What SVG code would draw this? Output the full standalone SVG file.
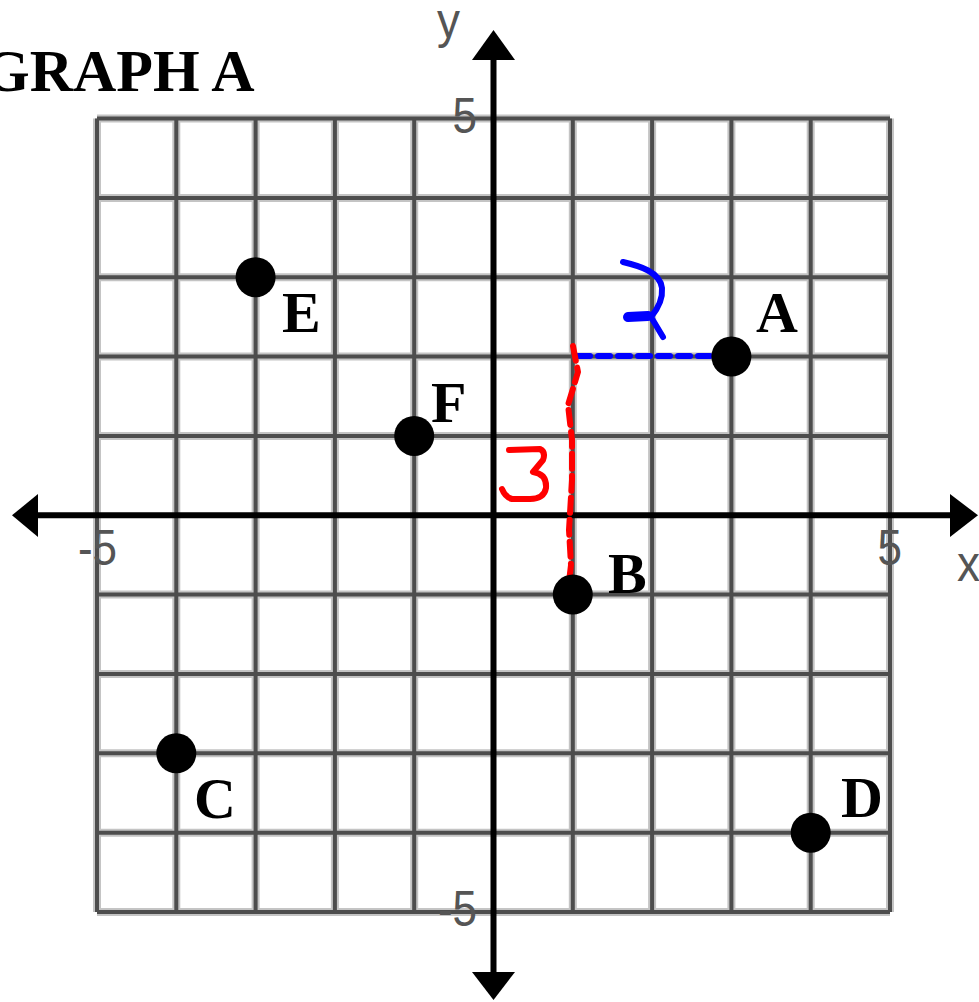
<svg xmlns="http://www.w3.org/2000/svg" width="979" height="1002" viewBox="0 0 979 1002">
<defs>
<style>
.halo{stroke:#c4c4c4;stroke-width:8;fill:none}
.grid{stroke:#4d4d4d;stroke-width:4;fill:none}
.axis{stroke:#000;stroke-width:6;fill:none}
.head{fill:#000}
.dot{fill:#000}
.lbl{font-family:"Liberation Serif","Times New Roman",serif;font-weight:bold;font-size:58px;fill:#000}
.title{font-family:"Liberation Serif","Times New Roman",serif;font-weight:bold;font-size:60px;fill:#000}
.tick{font-family:"Liberation Sans",Arial,sans-serif;font-size:50px;fill:#555}
.blue{stroke:#0000ff;stroke-width:6;fill:none;stroke-linecap:round;stroke-linejoin:round}
.red{stroke:#ff0000;stroke-width:6;fill:none;stroke-linecap:round;stroke-linejoin:round}
</style>
</defs>
<rect width="979" height="1002" fill="#fff"/>
<text class="title" x="-17" y="91">GRAPH A</text>
<g id="grid">
<path class="halo" d="M97,118.5V912M176.3,118.5V912M255.6,118.5V912M334.9,118.5V912M414.2,118.5V912M572.8,118.5V912M652.1,118.5V912M731.4,118.5V912M810.7,118.5V912M890,118.5V912M97,118.5H890M97,197.9H890M97,277.2H890M97,356.6H890M97,435.9H890M97,594.6H890M97,674H890M97,753.3H890M97,832.7H890M97,912H890"/>
<path class="grid" d="M97,118.5V912M176.3,118.5V912M255.6,118.5V912M334.9,118.5V912M414.2,118.5V912M572.8,118.5V912M652.1,118.5V912M731.4,118.5V912M810.7,118.5V912M890,118.5V912M97,118.5H890M97,197.9H890M97,277.2H890M97,356.6H890M97,435.9H890M97,594.6H890M97,674H890M97,753.3H890M97,832.7H890M97,912H890"/>
</g>
<g id="axes">
<path class="axis" d="M30,515.3H955M493.5,50V980"/>
<polygon class="head" points="12,515.3 38,494 38,537"/>
<polygon class="head" points="978,515.3 950,494 950,537"/>
<polygon class="head" points="493.5,30 472,60 515,60"/>
<polygon class="head" points="493.5,1000 472,972 515,972"/>
<text class="tick" transform="translate(477,133) scale(0.88,1)" text-anchor="end">5</text>
<text class="tick" transform="translate(117,565) scale(0.88,1)" text-anchor="end">-5</text>
<text class="tick" transform="translate(902,565) scale(0.88,1)" text-anchor="end">5</text>
<text class="tick" transform="translate(477,926) scale(0.88,1)" text-anchor="end">-5</text>
<text class="tick" transform="translate(957,581) scale(0.92,1)">x</text>
<text class="tick" transform="translate(437,38) scale(0.92,1)">y</text>
</g>
<g id="connectors">
<path class="blue" d="M578,356 H726" stroke-dasharray="12 8"/>
<path class="blue" d="M623,262 C640,266 660,272 662,288 C663,300 656,311 651,317 M629,317 L652,316 M651,317 L663,337"/>
<path d="M628,317 L648,316" stroke="#0000ff" stroke-width="10" stroke-linecap="round"/>
<path class="red" d="M573,346 L578,372 L568,405 L572,440 L572,480 L569,530 L571,565 L568,590" stroke-dasharray="15 7"/>
<path class="red" d="M509,450 L540,449 Q546,452 543,460 L533,472 Q547,474 546,488 Q544,499 530,499 L512,499 Q505,497 502,489"/>
</g>
<g id="node-A"><circle class="dot" cx="731.4" cy="356.6" r="20"/><text class="lbl" x="756" y="332">A</text></g>
<g id="node-B"><circle class="dot" cx="572.8" cy="594.6" r="20"/><text class="lbl" x="608" y="593">B</text></g>
<g id="node-C"><circle class="dot" cx="176.3" cy="753.3" r="20"/><text class="lbl" x="194" y="818">C</text></g>
<g id="node-D"><circle class="dot" cx="810.7" cy="832.7" r="20"/><text class="lbl" x="841" y="817">D</text></g>
<g id="node-E"><circle class="dot" cx="255.6" cy="277.2" r="20"/><text class="lbl" x="282" y="332">E</text></g>
<g id="node-F"><circle class="dot" cx="414.2" cy="435.9" r="20"/><text class="lbl" x="431" y="422">F</text></g>
</svg>
